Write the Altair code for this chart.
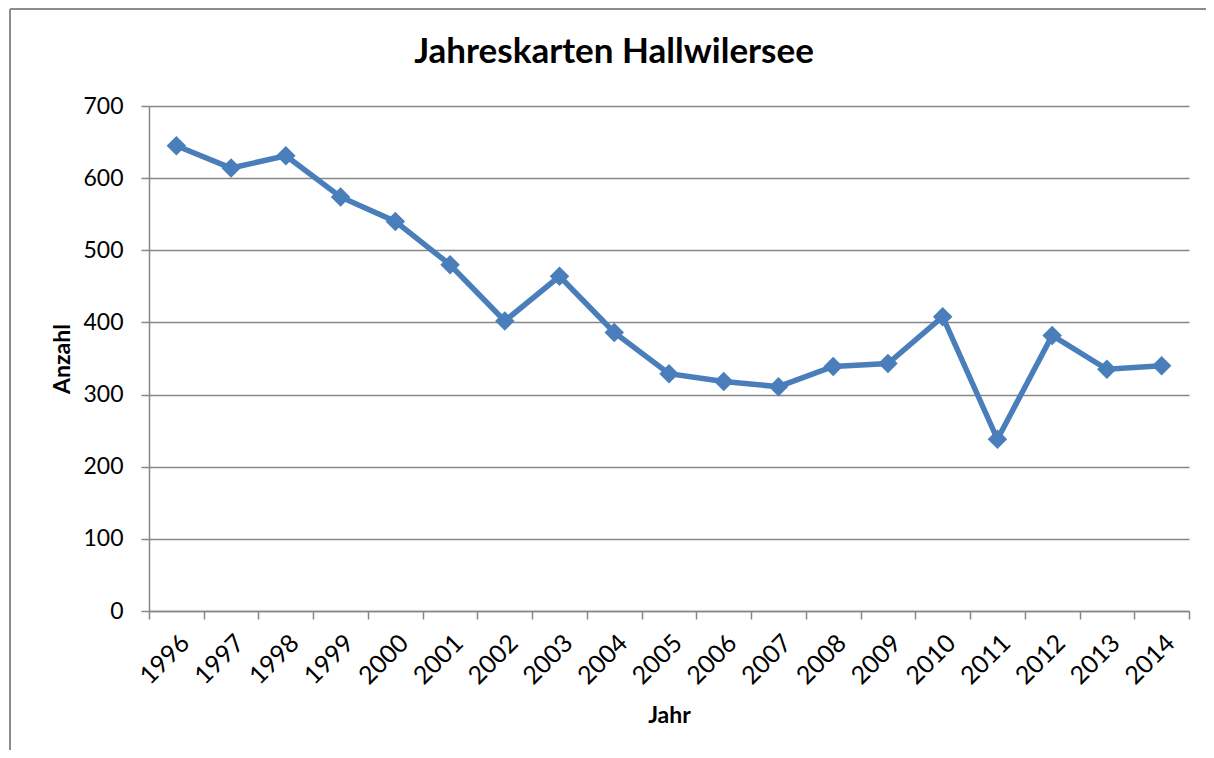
import altair as alt
import pandas as pd

# ---- data ----
jahre = ["1996", "1997", "1998", "1999", "2000", "2001", "2002", "2003", "2004",
         "2005", "2006", "2007", "2008", "2009", "2010", "2011", "2012", "2013", "2014"]
anzahl = [645, 614, 631, 574, 540, 480, 402, 464, 386,
          329, 318, 311, 339, 343, 408, 238, 382, 335, 340]
y_ticks = [0, 100, 200, 300, 400, 500, 600, 700]
chart_title = "Jahreskarten Hallwilersee"
x_title = "Jahr"
y_title = "Anzahl"

df = pd.DataFrame({"Jahr": jahre, "Anzahl": anzahl})

FONT = "Lato"
BLUE = "#4A7EBB"
GRAY = "#878787"

W, H = 1040, 505

x_enc = alt.X(
    "Jahr:O",
    sort=jahre,
    scale=alt.Scale(type="band", paddingInner=0, paddingOuter=0),
    axis=alt.Axis(
        title=x_title,
        tickBand="extent",
        ticks=True,
        tickSize=8,
        tickColor=GRAY,
        tickWidth=1.5,
        domainColor=GRAY,
        domainWidth=1.5,
        grid=False,
        labelAngle=-45,
        labelFont=FONT,
        labelFontSize=25,
        labelColor="black",
        labelPadding=11,
        labelOverlap=False,
        titleFont=FONT,
        titleFontSize=23,
        titleFontWeight="bold",
        titleColor="black",
        titleX=W / 2,
        titleY=104,
        titleBaseline="middle",
        titleAlign="center",
    ),
)

y_enc = alt.Y(
    "Anzahl:Q",
    scale=alt.Scale(domain=[0, 700], nice=False, zero=True),
    axis=alt.Axis(
        title=y_title,
        values=y_ticks,
        grid=True,
        gridColor=GRAY,
        gridWidth=1.5,
        tickSize=8,
        tickColor=GRAY,
        tickWidth=1.5,
        domainColor=GRAY,
        domainWidth=1.5,
        labelFont=FONT,
        labelFontSize=23,
        labelColor="black",
        labelPadding=18,
        titleFont=FONT,
        titleFontSize=23,
        titleFontWeight="bold",
        titleColor="black",
        titleX=-87,
        titleY=H / 2,
        titleBaseline="middle",
        titleAlign="center",
        titleAngle=270,
    ),
)

base = alt.Chart(df).encode(x=x_enc, y=y_enc)

line = base.mark_line(color=BLUE, strokeWidth=5.5)
points = base.mark_point(shape="diamond", filled=True, size=380, color=BLUE, opacity=1)

one = alt.Data(values=[{"k": 1}])
title_mark = alt.Chart(one).mark_text(
    text=chart_title, font=FONT, fontSize=35, fontWeight="bold", color="black",
    align="center", baseline="alphabetic"
).encode(x=alt.value(465), y=alt.value(-43))

border_left = alt.Chart(one).mark_rule(color="#8c8c8c", strokeWidth=2).encode(
    x=alt.value(-139), y=alt.value(-97), y2=alt.value(700)
)
border_top = alt.Chart(one).mark_rule(color="#8c8c8c", strokeWidth=2).encode(
    x=alt.value(-139), x2=alt.value(1080), y=alt.value(-97)
)

chart = alt.layer(border_left, border_top, title_mark, line, points).properties(
    width=W,
    height=H,
    autosize=alt.AutoSizeParams(type="none"),
    padding={"left": 141, "top": 98, "right": 17, "bottom": 139},
    background="white",
).configure_view(strokeWidth=0)

chart.save("out.html", embed_options={"renderer": "svg", "actions": False})
